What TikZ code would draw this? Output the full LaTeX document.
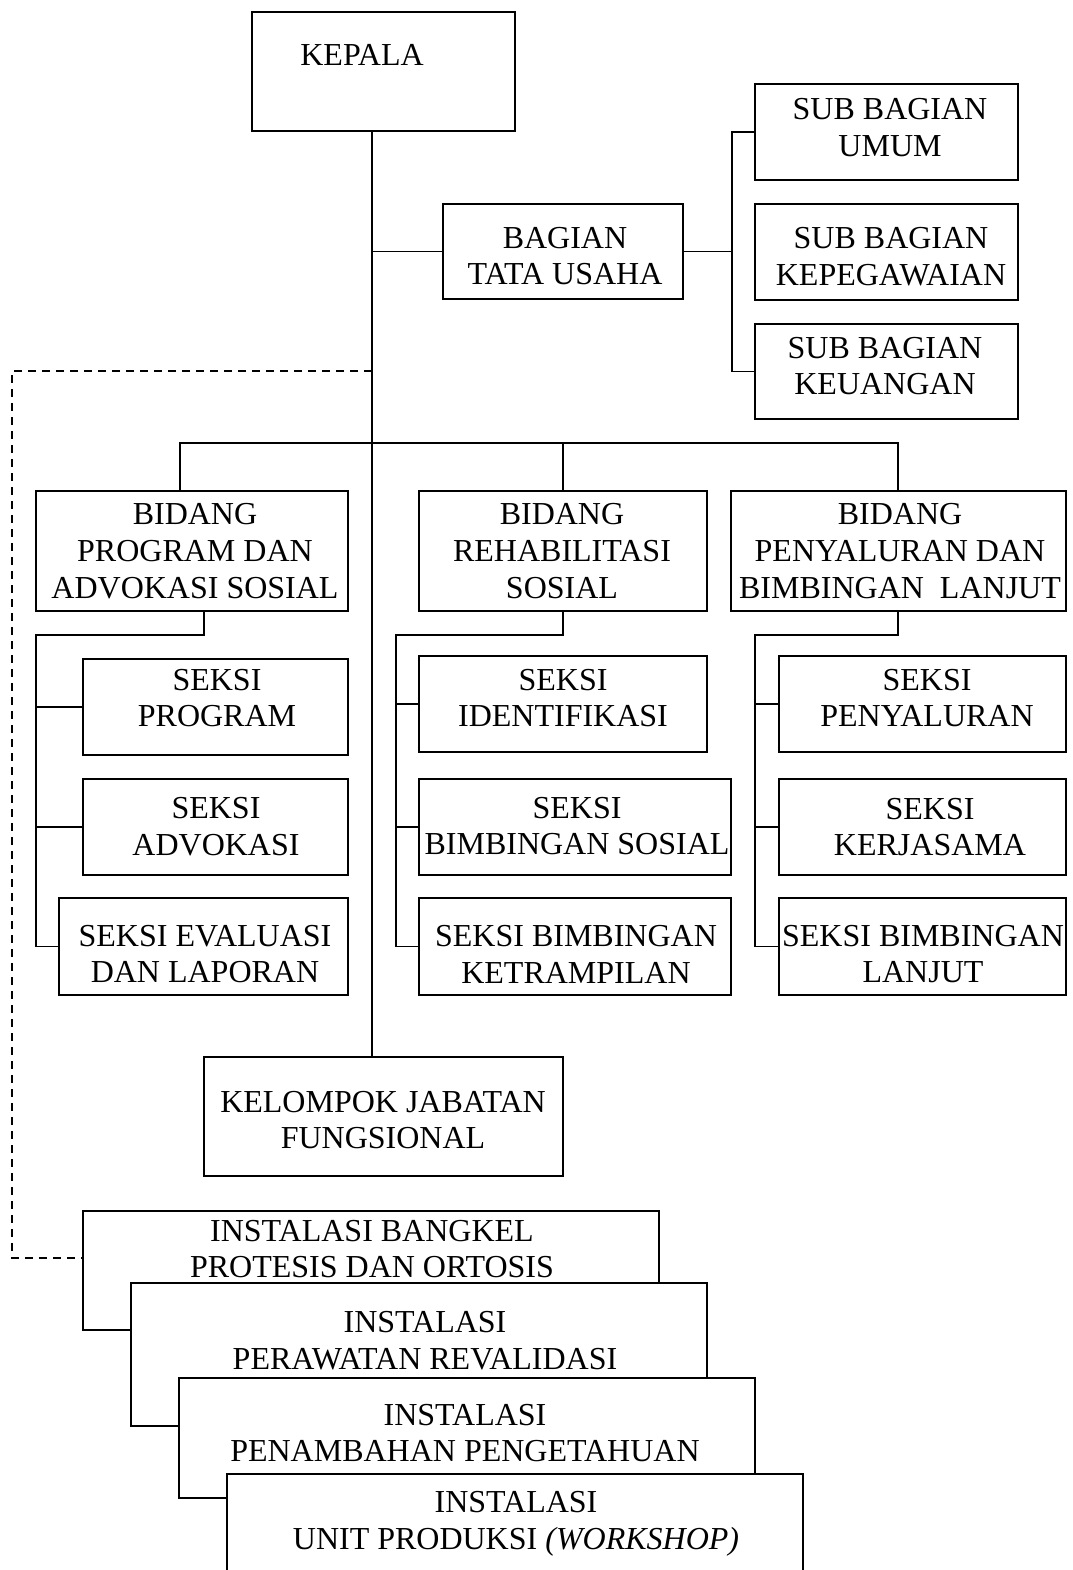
\documentclass[tikz,border=0pt]{standalone}
\usepackage{fontspec}
\setmainfont{Liberation Serif}
\begin{document}
\begin{tikzpicture}[x=1pt,y=-1pt,
  line width=1.8pt,
  box/.style={draw, fill=white, inner sep=0pt},
  txt/.style={align=center, inner sep=0pt, font=\fontsize{32}{36.8}\selectfont, yshift=-2pt},
  conn/.style={line width=1.8pt},
  dashconn/.style={line width=1.8pt, dash pattern=on 8pt off 6pt}]
\useasboundingbox (0,0) rectangle (1072,1570);
\fill[white] (0,0) rectangle (1072,1570);
% boxes
\node[box, minimum width=263pt, minimum height=119pt] (kepala) at (383.5,71.5) {};
\node[box, minimum width=240pt, minimum height=95pt] (bagian) at (563,251.5) {};
\node[box, minimum width=263pt, minimum height=96pt] (subumum) at (886.5,132) {};
\node[box, minimum width=263pt, minimum height=96pt] (subkep) at (886.5,252) {};
\node[box, minimum width=263pt, minimum height=95pt] (subkeu) at (886.5,371.5) {};
\node[box, minimum width=312pt, minimum height=120pt] (bidl) at (192,551) {};
\node[box, minimum width=288pt, minimum height=120pt] (bidm) at (563,551) {};
\node[box, minimum width=335pt, minimum height=120pt] (bidr) at (898.5,551) {};
\node[box, minimum width=265pt, minimum height=96pt] (sprog) at (215.5,707) {};
\node[box, minimum width=265pt, minimum height=96pt] (sadv) at (215.5,827) {};
\node[box, minimum width=289pt, minimum height=97pt] (seval) at (203.5,946.5) {};
\node[box, minimum width=288pt, minimum height=96pt] (sident) at (563,704) {};
\node[box, minimum width=312pt, minimum height=96pt] (sbimsos) at (575,827) {};
\node[box, minimum width=312pt, minimum height=97pt] (sketr) at (575,946.5) {};
\node[box, minimum width=287pt, minimum height=96pt] (speny) at (922.5,704) {};
\node[box, minimum width=287pt, minimum height=96pt] (skerja) at (922.5,827) {};
\node[box, minimum width=287pt, minimum height=97pt] (slanjut) at (922.5,946.5) {};
\node[box, minimum width=359pt, minimum height=119pt] (kelompok) at (383.5,1116.5) {};
\node[box, minimum width=576pt, minimum height=119pt] (inst1) at (371,1270.5) {};
\node[box, minimum width=576pt, minimum height=143pt] (inst2) at (419,1354.5) {};
\node[box, minimum width=576pt, minimum height=120pt] (inst3) at (467,1438) {};
\node[box, minimum width=576pt, minimum height=126pt] (inst4) at (515,1537) {};
% texts
\node[txt] (tkepala) at (362,52.5) {KEPALA};
\node[txt] (tbagian) at (565,254) {BAGIAN\\TATA USAHA};
\node[txt] (tsubumum) at (890,125.5) {SUB BAGIAN\\UMUM};
\node[txt] (tsubkep) at (891,255) {SUB BAGIAN\\KEPEGAWAIAN};
\node[txt] (tsubkeu) at (885,364) {SUB BAGIAN\\KEUANGAN};
\node[txt] (tbidl) at (195,549) {BIDANG\\PROGRAM DAN\\ADVOKASI SOSIAL};
\node[txt] (tbidm) at (562,549) {BIDANG\\REHABILITASI\\SOSIAL};
\node[txt] (tbidr) at (900,549) {BIDANG\\PENYALURAN DAN\\BIMBINGAN\ \ LANJUT};
\node[txt] (tsprog) at (217,696) {SEKSI\\PROGRAM};
\node[txt] (tsadv) at (216,825) {SEKSI\\ADVOKASI};
\node[txt] (tseval) at (205,952) {SEKSI EVALUASI\\DAN LAPORAN};
\node[txt] (tsident) at (563,696) {SEKSI\\IDENTIFIKASI};
\node[txt] (tsbimsos) at (577,824) {SEKSI\\BIMBINGAN SOSIAL};
\node[txt] (tsketr) at (576,952) {SEKSI BIMBINGAN\\KETRAMPILAN};
\node[txt] (tspeny) at (927,696) {SEKSI\\PENYALURAN};
\node[txt] (tskerja) at (930,825) {SEKSI\\KERJASAMA};
\node[txt] (tslanjut) at (923,952) {SEKSI BIMBINGAN\\LANJUT};
\node[txt] (tkelompok) at (383,1118) {KELOMPOK JABATAN\\FUNGSIONAL};
\node[txt] (tinst1) at (372,1247) {INSTALASI BANGKEL\\PROTESIS DAN ORTOSIS};
\node[txt] (tinst2) at (425,1339) {INSTALASI\\PERAWATAN REVALIDASI};
\node[txt] (tinst3) at (465,1431) {INSTALASI\\PENAMBAHAN PENGETAHUAN};
\node[txt] (tinst4) at (516,1522) {INSTALASI\\UNIT PRODUKSI \textit{(WORKSHOP)}};
% helper coordinates
\coordinate (trunk) at (372,0);
\coordinate (subbus) at (732,0);
\coordinate (hb) at (0,443);
\coordinate (cL) at (180,0);
\coordinate (cM) at (563,0);
\coordinate (cR) at (898,0);
\coordinate (dL) at (204,0);
\coordinate (lb) at (0,635);
\coordinate (bL) at (36,0);
\coordinate (bM) at (396,0);
\coordinate (bR) at (755,0);
\coordinate (d1) at (372,371);
\coordinate (d3) at (12,1258);
\coordinate (d4) at (83,1258);
% connectors
\draw[conn] (kepala.south -| trunk) -- (kelompok.north -| trunk);
\draw[conn] (trunk |- bagian.west) -- (bagian.west);
\draw[conn] (bagian.east) -- (subbus |- bagian.east);
\draw[conn] (subumum.west) -| (subbus |- subkeu.west) -- (subkeu.west);
\draw[dashconn] (d1) -| (d3) -- (d4);
\draw[conn] (cL |- bidl.north) -- (cL |- hb) -- (cR |- hb) -- (cR |- bidr.north);
\draw[conn] (cM |- hb) -- (cM |- bidm.north);
\draw[conn] (dL |- bidl.south) -- (dL |- lb) -- (bL |- lb) -- (bL |- seval.west) -- (seval.west);
\draw[conn] (bL |- sprog.west) -- (sprog.west);
\draw[conn] (bL |- sadv.west) -- (sadv.west);
\draw[conn] (bidm.south) -- (cM |- lb) -- (bM |- lb) -- (bM |- sketr.west) -- (sketr.west);
\draw[conn] (bM |- sident.west) -- (sident.west);
\draw[conn] (bM |- sbimsos.west) -- (sbimsos.west);
\draw[conn] (cR |- bidr.south) -- (cR |- lb) -- (bR |- lb) -- (bR |- slanjut.west) -- (slanjut.west);
\draw[conn] (bR |- speny.west) -- (speny.west);
\draw[conn] (bR |- skerja.west) -- (skerja.west);
\end{tikzpicture}
\end{document}
